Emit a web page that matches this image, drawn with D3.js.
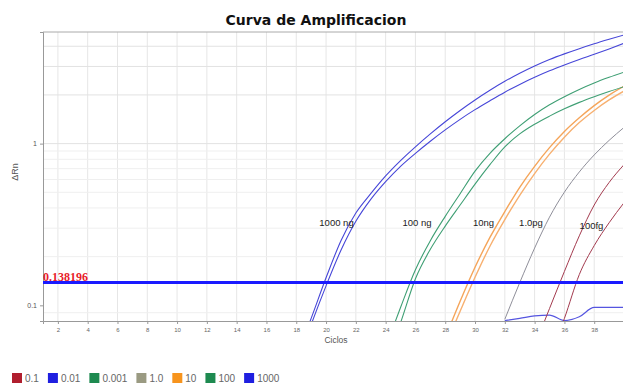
<!DOCTYPE html>
<html>
<head>
<meta charset="utf-8">
<script src="https://cdn.jsdelivr.net/npm/d3@7"></script>
<style>
html,body{margin:0;padding:0;background:#fff;}
svg{display:block;font-family:"DejaVu Sans",Verdana,sans-serif;}
</style>
</head>
<body>
<svg id="chart" width="623" height="386"></svg>
<script>
// ---- data ----
const xTicks = [2,4,6,8,10,12,14,16,18,20,22,24,26,28,30,32,34,36,38];
const yTicks = [0.1, 1];
const threshold = 0.138196;

// each series: first cycle, then one ΔRn value per cycle
const start1000a = 18;
const rn1000a = [0.048,0.083,0.148,0.251,0.372,0.490,0.631,0.785,0.955,1.148,1.365,1.603,1.862,2.138,2.427,2.723,3.020,3.311,3.589,3.864,4.140,4.416,4.699];
const start1000b = 18;
const rn1000b = [0.042,0.076,0.132,0.219,0.331,0.452,0.582,0.724,0.871,1.035,1.216,1.413,1.622,1.841,2.080,2.323,2.570,2.818,3.062,3.311,3.565,3.850,4.170];
const start100a = 24;
const rn100a = [0.055,0.097,0.166,0.251,0.355,0.490,0.676,0.871,1.072,1.288,1.514,1.738,1.950,2.163,2.371,2.570,2.767];
const start100b = 24;
const rn100b = [0.044,0.078,0.146,0.222,0.309,0.417,0.562,0.741,0.955,1.148,1.318,1.479,1.641,1.799,1.950,2.099,2.249];
const start10a = 28;
const rn10a = [0.063,0.106,0.172,0.263,0.380,0.537,0.724,0.944,1.189,1.445,1.718,1.995,2.265];
const start10b = 28;
const rn10b = [0.056,0.092,0.149,0.232,0.339,0.479,0.653,0.861,1.096,1.349,1.603,1.862,2.113];
const start1p0 = 32;
const rn1p0 = [0.082,0.138,0.226,0.351,0.501,0.668,0.851,1.047,1.259];
const start0p1a = 34;
const rn0p1a = [0.056,0.0955,0.162,0.269,0.417,0.575,0.741];
const start0p1b = 35;
const rn0p1b = [0.048,0.083,0.155,0.234,0.324,0.431];
const start0p01 = 32;
const rn0p01 = [0.0805,0.083,0.086,0.087,0.0805,0.085,0.097,0.097,0.097];

const legendNames = ["0.1","0.01","0.001","1.0","10","100","1000"];
const legendColors = ["#b01e2e","#1f1fe0","#1e8a50","#9a9a82","#f7941d","#1e8a50","#1f1fe0"];

const curveLabels = ["1000 ng","100 ng","10ng","1.0pg","100fg"];
const curveLabelX = [336.5, 417, 483.5, 531, 591.5];
const curveLabelY = [226, 226, 226, 226, 229];

// ---- layout ----
const svg = d3.select("#chart");
const mLeft = 43, mRight = 624, mTop = 32, mBottom = 321;
const x = d3.scaleLinear().domain([1, 40]).range([mLeft, mRight]);
const y = d3.scaleLog().domain([0.08, 4.9]).range([mBottom, mTop]);

// title
svg.append("text").attr("x", 316).attr("y", 25).attr("text-anchor","middle")
  .attr("font-size", 14).attr("font-weight","bold").attr("fill","#111")
  .text("Curva de Amplificacion");

// grid
const grid = svg.append("g");
const xg = d3.range(2, 41, 2);
grid.selectAll("line.v").data(xg).join("line")
  .attr("x1", d=>x(d)).attr("x2", d=>x(d)).attr("y1", mTop).attr("y2", mBottom)
  .attr("stroke","#e6e6e6").attr("stroke-width",1);
const yg = [0.09,0.2,0.3,0.4,0.5,0.6,0.7,0.8,0.9,1,2,3,4];
grid.selectAll("line.h").data(yg).join("line")
  .attr("x1", mLeft).attr("x2", 623).attr("y1", d=>y(d)).attr("y2", d=>y(d))
  .attr("stroke", d => (d===1||d===2||d===3||d===4)?"#e2e2e2":"#efefef").attr("stroke-width",1);

// frame
svg.append("line").attr("x1",mLeft).attr("x2",623).attr("y1",mTop).attr("y2",mTop).attr("stroke","#aaa");

// axes
const xAxis = svg.append("g").attr("transform",`translate(0,${mBottom})`)
  .call(d3.axisBottom(x).tickValues(xTicks).tickSize(3).tickFormat(d3.format("d")));
xAxis.select(".domain").attr("stroke","#999");
xAxis.selectAll(".tick line").attr("stroke","#999");
xAxis.selectAll("text").attr("font-size",6).attr("fill","#666").attr("dy","0.9em");

const yAxis = svg.append("g").attr("transform",`translate(${mLeft},0)`)
  .call(d3.axisLeft(y).tickValues(yTicks).tickSize(3).tickFormat(d=>d===1?"1":"0.1"));
yAxis.select(".domain").attr("stroke","#999");
yAxis.selectAll(".tick line").attr("stroke","#999");
yAxis.selectAll("text").attr("font-size",7).attr("fill","#555");

svg.append("text").attr("x",336).attr("y",343).attr("text-anchor","middle")
  .attr("font-size",8.5).attr("fill","#555").attr("font-family","Liberation Sans, Arial, sans-serif").text("Ciclos");
svg.append("text").attr("transform","translate(18,172) rotate(-90)").attr("text-anchor","middle")
  .attr("font-size",9).attr("fill","#555").attr("font-family","Liberation Sans, Arial, sans-serif").text("ΔRn");

// clip
svg.append("clipPath").attr("id","clip").append("rect")
  .attr("x",mLeft).attr("y",mTop).attr("width",623-mLeft).attr("height",mBottom-mTop);
const plot = svg.append("g").attr("clip-path","url(#clip)");

const line = d3.line().x(d=>x(d[0])).y(d=>y(d[1])).curve(d3.curveMonotoneX);
function pts(start, vals){ return vals.map((v,i)=>[start+i, v]); }

const series = [
  {s:start0p01, v:rn0p01, c:"#5555e0", w:1.2},
  {s:start0p1a, v:rn0p1a, c:"#a33a4e", w:1},
  {s:start0p1b, v:rn0p1b, c:"#a33a4e", w:1},
  {s:start1p0, v:rn1p0, c:"#8f8f9a", w:1},
  {s:start10a, v:rn10a, c:"#f5a55a", w:1.4},
  {s:start10b, v:rn10b, c:"#f7b070", w:1.4},
  {s:start100a, v:rn100a, c:"#3f9f74", w:1.1},
  {s:start100b, v:rn100b, c:"#3f9f74", w:1.1},
  {s:start1000a, v:rn1000a, c:"#4646d8", w:1.1},
  {s:start1000b, v:rn1000b, c:"#4646d8", w:1.1}
];
plot.selectAll("path.curve").data(series).join("path")
  .attr("d", d=>line(pts(d.s,d.v)))
  .attr("fill","none").attr("stroke",d=>d.c).attr("stroke-width",d=>d.w);

// threshold
svg.append("line").attr("x1",mLeft).attr("x2",623).attr("y1",y(threshold)).attr("y2",y(threshold))
  .attr("stroke","#1a1aff").attr("stroke-width",3);
svg.append("text").attr("x",mLeft).attr("y",y(threshold)-2)
  .attr("font-family","Liberation Serif, Times New Roman, serif").attr("font-weight","bold")
  .attr("font-size",12).attr("fill","#e8202a").text(threshold.toString());

// curve labels
svg.selectAll("text.cl").data(curveLabels).join("text")
  .attr("x",(d,i)=>curveLabelX[i]).attr("y",(d,i)=>curveLabelY[i]).attr("text-anchor","middle")
  .attr("font-size",9.5).attr("fill","#222").attr("font-family","Liberation Sans, Arial, sans-serif")
  .text(d=>d);

// legend
const lg = svg.append("g").attr("transform","translate(12,373)");
let lx = 0;
legendNames.forEach((n,i)=>{
  lg.append("rect").attr("x",lx).attr("y",0).attr("width",10).attr("height",10).attr("fill",legendColors[i]);
  const t = lg.append("text").attr("x",lx+13).attr("y",9).attr("font-size",10)
    .attr("fill","#666").attr("font-family","Liberation Sans, Arial, sans-serif").text(n);
  lx += 13 + t.node().getComputedTextLength() + 9;
});
</script>
</body>
</html>
